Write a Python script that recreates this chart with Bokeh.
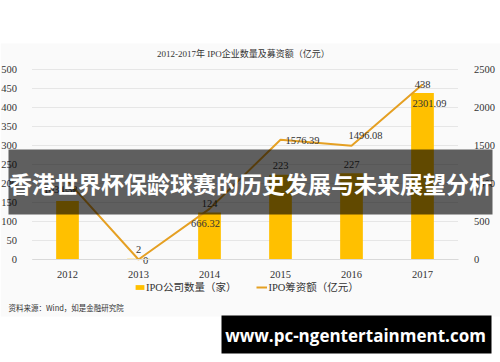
from bokeh.plotting import figure
from bokeh.models import (Range1d, LinearAxis, FixedTicker, ColumnDataSource,
                          BoxAnnotation, Label, Legend, LegendItem)
from bokeh.core.properties import value
from bokeh.embed import file_html
from bokeh.resources import INLINE

# ---------------- data ----------------
years = ["2012", "2013", "2014", "2015", "2016", "2017"]
ipo_count = [154, 2, 124, 223, 227, 438]
ipo_funds = [1034.32, 0, 666.32, 1576.39, 1496.08, 2301.09]
count_labels = ["154", "2", "124", "223", "227", "438"]
funds_labels = ["1034.32", "0", "666.32", "1576.39", "1496.08", "2301.09"]
left_ticks = [0, 50, 100, 150, 200, 250, 300, 350, 400, 450, 500]
right_ticks = [0, 500, 1000, 1500, 2000, 2500]

title_text = "2012-2017年  IPO企业数量及募资额（亿元）"
legend_count = "IPO公司数量（家）"
legend_funds = "IPO筹资额（亿元）"
source_text = "资料来源：Wind，如是金融研究院"
banner_text = "香港世界杯保龄球赛的历史发展与未来展望分析"
watermark_text = "www.pc-ngentertainment.com"

# ---------------- layout / styles ----------------
W, H = 500, 362
PL, PR, PT, PB = 31.5, 457.5, 69.0, 259.0     # plot area in canvas pixels
LEFT_MAX, RIGHT_MAX = 500.0, 2500.0
SERIF = "Liberation Serif, Noto Sans CJK SC"
BAR_C = "#FFC000"
LINE_C = "#E5A023"
TXT_C = "#333333"

n = len(years)
xs = list(range(n))
unit = (PR - PL) / n
x_start = -(PL + unit / 2) / unit
x_end = x_start + W / unit
ppu = (PB - PT) / LEFT_MAX
y_top = PB / ppu
y_bot = (PB - H) / ppu
ratio = RIGHT_MAX / LEFT_MAX

def sx(x):
    return x

def sy(y):
    return H - y

fund_dx = [-7, 7, -4, 22, 14, 7]
fund_dy = [9, 1, 15, 1, -10, 19]

p = figure(width=W, height=H, x_range=Range1d(x_start, x_end),
           y_range=Range1d(y_bot, y_top),
           output_backend="svg", toolbar_location=None,
           x_axis_location=None, y_axis_location=None,
           min_border=0, min_border_left=0, min_border_right=0,
           min_border_top=0, min_border_bottom=0)
p.outline_line_color = None
p.background_fill_color = "white"
p.border_fill_color = "white"
p.xgrid.visible = False
p.ygrid.visible = False

p.extra_y_ranges = {"right": Range1d(y_bot * ratio, y_top * ratio)}

# light chart background
p.add_layout(BoxAnnotation(left=sx(0), right=sx(W), top=sy(43), bottom=sy(316),
                           left_units="screen", right_units="screen",
                           top_units="screen", bottom_units="screen",
                           fill_color="#fafafa", fill_alpha=1, line_color=None,
                           level="image"))

# grid lines across plot area
p.segment(x0=[-0.5] * len(left_ticks), x1=[n - 0.5] * len(left_ticks),
          y0=left_ticks, y1=left_ticks, line_color="#e6e6e6", line_width=1,
          level="underlay")

# axes (fixed in place, zero panel size)
la = LinearAxis(ticker=FixedTicker(ticks=left_ticks), fixed_location=-0.5)
la.axis_line_color = None
la.major_tick_line_color = None
la.minor_tick_line_color = None
la.major_label_standoff = 9
la.major_label_text_font = SERIF
la.major_label_text_font_size = "10.5px"
la.major_label_text_color = TXT_C
p.add_layout(la, "left")

ra = LinearAxis(y_range_name="right", ticker=FixedTicker(ticks=right_ticks),
                fixed_location=n - 0.5)
ra.axis_line_color = None
ra.major_tick_line_color = None
ra.minor_tick_line_color = None
ra.major_label_standoff = 10
ra.major_label_text_font = SERIF
ra.major_label_text_font_size = "10.5px"
ra.major_label_text_color = TXT_C
p.add_layout(ra, "right")

ba = LinearAxis(ticker=FixedTicker(ticks=xs), fixed_location=0,
                bounds=(-0.5, n - 0.5))
ba.major_label_overrides = {i: y for i, y in zip(xs, years)}
ba.axis_line_color = "#d9d9d9"
ba.major_tick_line_color = None
ba.minor_tick_line_color = None
ba.major_label_standoff = 5
ba.major_label_text_font = SERIF
ba.major_label_text_font_size = "10.5px"
ba.major_label_text_color = TXT_C
p.add_layout(ba, "below")

src = ColumnDataSource(dict(x=xs, count=ipo_count, funds=ipo_funds,
                            clab=count_labels, flab=funds_labels,
                            fdx=fund_dx, fdy=fund_dy))

bars = p.vbar(x="x", top="count", width=0.32, source=src,
              fill_color=BAR_C, line_color=None)
line = p.line(x="x", y="funds", source=src, y_range_name="right",
              line_color=LINE_C, line_width=2)

p.text(x="x", y="count", text="clab", source=src,
       text_align="center", text_baseline="middle", y_offset=-9,
       text_font=value(SERIF), text_font_size="10.5px", text_color=TXT_C)
p.text(x="x", y="funds", text="flab", source=src, y_range_name="right",
       x_offset="fdx", y_offset="fdy",
       text_align="center", text_baseline="middle",
       text_font=value(SERIF), text_font_size="10.5px", text_color=TXT_C)

# title
p.add_layout(Label(x=sx(244), y=sy(53), x_units="screen", y_units="screen",
                   text=title_text, text_align="center", text_baseline="middle",
                   text_font=SERIF, text_font_size="9px", text_color=TXT_C))

# legend
legend = Legend(items=[LegendItem(label=legend_count, renderers=[bars]),
                       LegendItem(label=legend_funds, renderers=[line])],
                orientation="horizontal", location=(134, sy(294)),
                glyph_width=11, glyph_height=6, label_standoff=1, spacing=20,
                padding=0, margin=0, border_line_color=None,
                background_fill_alpha=0,
                label_text_font=SERIF, label_text_font_size="10.5px",
                label_text_color=TXT_C)
p.add_layout(legend, "center")

# source note
p.add_layout(Label(x=sx(8), y=sy(307), x_units="screen", y_units="screen",
                   text=source_text, text_align="left", text_baseline="middle",
                   text_font="Noto Sans CJK SC", text_font_size="7.5px",
                   text_color=TXT_C))

# overlay banner
p.add_layout(BoxAnnotation(left=sx(8), right=sx(492), top=sy(149), bottom=sy(214),
                           left_units="screen", right_units="screen",
                           top_units="screen", bottom_units="screen",
                           fill_color="black", fill_alpha=0.62, line_color=None,
                           level="overlay"))
p.add_layout(Label(x=sx(250), y=sy(182), x_units="screen", y_units="screen",
                   text=banner_text, text_align="center", text_baseline="middle",
                   text_font="Noto Sans CJK SC", text_font_style="bold",
                   text_font_size="23px", text_color="white", level="overlay"))

# watermark
p.add_layout(BoxAnnotation(left=sx(221), right=sx(491), top=sy(315), bottom=sy(353),
                           left_units="screen", right_units="screen",
                           top_units="screen", bottom_units="screen",
                           fill_color="black", fill_alpha=1, line_color=None,
                           level="overlay"))
p.add_layout(Label(x=sx(355), y=sy(335), x_units="screen", y_units="screen",
                   text=watermark_text, text_align="center", text_baseline="middle",
                   text_font="Open Sans", text_font_style="bold",
                   text_font_size="17px", text_color="white", level="overlay"))

open("out.html", "w").write(file_html(p, INLINE))
